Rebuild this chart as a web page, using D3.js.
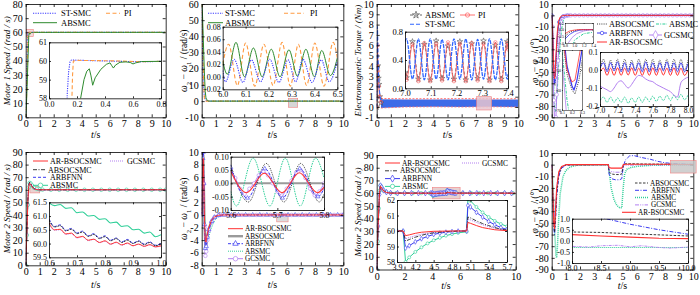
<!DOCTYPE html>
<html><head><meta charset="utf-8">
<script src="https://cdn.jsdelivr.net/npm/d3@7"></script>
<style>body{margin:0;background:#fff}svg{display:block}</style>
</head><body><svg id="c" width="700" height="295"></svg>
<script>
// ================= DATA =================
// Panel 1: Motor 1 speed
const p1Blue = [[0,0],[0.05,14],[0.1,38],[0.12,52],[0.13,58.2],[0.14,59.4],[0.15,59.95],[0.16,60.05],[0.25,60.03],[0.4,60.0],[0.55,59.97],[0.7,59.96],[0.8,59.98],[10,60]];
const p1Orange = [[0,0],[0.05,10],[0.1,30],[0.15,50],[0.162,57.5],[0.168,59.2],[0.174,60],[0.2,60.03],[0.35,60.02],[0.5,60.0],[0.65,59.96],[0.8,59.98],[10,60]];
const p1Green = [[0,0],[0.05,8],[0.1,22],[0.16,40],[0.2,52],[0.221,57.8],[0.25,59.0],[0.27,59.45],[0.288,59.58],[0.3,59.2],[0.312,58.7],[0.33,59.1],[0.37,59.55],[0.41,59.82],[0.436,59.9],[0.448,59.75],[0.46,59.62],[0.475,59.78],[0.507,59.93],[0.55,59.95],[0.58,59.92],[0.6,59.84],[0.62,59.9],[0.66,59.97],[0.8,59.98],[10,60]];
// Panel 2: speed difference
const p2Blue = [[0,58],[0.03,45],[0.06,30],[0.1,15],[0.15,6],[0.2,2],[0.3,0.4],[0.4,0],[10,0]];
const p2Orange = [[0,60],[0.04,50],[0.08,35],[0.12,18],[0.17,5],[0.2,0.5],[0.3,0],[10,0]];
const p2Green = [[0,60],[0.05,55],[0.1,42],[0.15,28],[0.2,15],[0.25,6],[0.3,2],[0.4,0.3],[0.5,0],[10,0]];
const p2InGreenT = [6.0,6.02,6.058,6.095,6.134,6.172,6.212,6.25,6.289,6.326,6.363,6.4,6.432,6.47,6.5];
const p2InGreenV = [0.025,0.004,0.055,0.0,0.046,0.0,0.044,0.0,0.043,0.001,0.044,0.0,0.042,0.002,0.03];
const p2InOrangeT = [6.0,6.026,6.064,6.10,6.14,6.18,6.22,6.259,6.295,6.33,6.366,6.402,6.442,6.482,6.5];
const p2InOrangeV = [0.02,0.052,-0.014,0.054,-0.015,0.052,-0.014,0.055,-0.015,0.052,-0.014,0.054,-0.015,0.055,0.03];
const p2InBlueT = [6.0,6.012,6.05,6.088,6.125,6.165,6.205,6.245,6.285,6.318,6.35,6.39,6.43,6.465,6.5];
const p2InBlueV = [0.01,-0.008,0.028,-0.009,0.027,-0.008,0.028,-0.009,0.027,-0.008,0.028,-0.009,0.027,-0.008,0.025];
// Panel 3: electromagnetic torque
const p3Blue = [[0,0],[0.02,5],[0.04,7.8],[0.06,7.5],[0.1,4.5],[0.15,2.5],[0.2,1.5],[0.25,0.9],[0.3,0.6]];
const p3Red = [[0,0],[0.03,4],[0.06,6],[0.1,3.5],[0.15,2],[0.2,1.0],[0.3,0.5]];
const p3Gray = [[0,0],[0.03,3],[0.08,4],[0.12,2.8],[0.16,2.2],[0.22,1.0],[0.3,0.4]];
const p3BandT = [0.3,2,4,6,8,10];
const p3BandLo = [-0.1,0.0,0.02,0.0,0.02,0.0];
const p3BandHi = [0.75,0.72,0.73,0.72,0.72,0.73];
const p3RedTop = [0.82,0.8,0.8,0.81,0.8,0.8];
const p3InT = [7.0,7.006,7.029,7.052,7.075,7.098,7.121,7.144,7.167,7.19,7.213,7.236,7.259,7.282,7.305,7.328,7.351,7.374,7.397,7.4];
const p3InBlueV = [0.66,0.70,0.13,0.70,0.12,0.70,0.13,0.69,0.12,0.70,0.13,0.70,0.12,0.69,0.13,0.70,0.12,0.70,0.13,0.2];
const p3InRedV = [0.2,0.12,0.62,0.1,0.64,0.1,0.63,0.11,0.65,0.1,0.63,0.1,0.64,0.11,0.63,0.1,0.65,0.1,0.64,0.55];
const p3InGrayV = [0.22,0.15,0.66,0.13,0.62,0.12,0.67,0.14,0.6,0.13,0.66,0.12,0.63,0.14,0.67,0.12,0.61,0.13,0.66,0.58];
// Panel 4: angle difference
const p4Black = [[0,0],[0.05,-8],[0.1,-32],[0.15,-52],[0.2,-60],[0.23,-62],[0.27,-55],[0.35,-30],[0.45,-12],[0.55,-4],[0.7,-1],[0.8,-0.5],[0.9,-0.2],[1.0,-0.08],[1.1,0],[10,0.03]];
const p4Blue = [[0,0],[0.05,-5],[0.1,-25],[0.15,-48],[0.2,-58],[0.22,-60],[0.25,-55],[0.3,-40],[0.4,-18],[0.5,-6],[0.6,-2.5],[0.7,-1.2],[0.8,-0.7],[0.9,-0.35],[1.0,-0.15],[1.1,-0.05],[1.2,0],[10,0.02]];
const p4Teal = [[0,0],[0.05,-10],[0.1,-40],[0.15,-65],[0.2,-80],[0.25,-85],[0.3,-83],[0.4,-65],[0.5,-42],[0.6,-24],[0.7,-12],[0.8,-5],[0.9,-2],[1.0,-0.8],[1.2,-0.3],[1.4,-0.2],[1.6,-0.17],[10,-0.17]];
const p4Purple = [[0,0],[0.05,-10],[0.1,-45],[0.15,-75],[0.2,-92],[0.25,-96],[0.3,-90],[0.35,-70],[0.45,-40],[0.55,-18],[0.65,-6],[0.75,-2],[0.85,-1.1],[0.95,-0.6],[1.05,-0.3],[1.2,-0.1],[1.35,0],[1.65,0],[1.95,0],[2.25,0],[2.55,0],[2.85,0],[3.15,0],[3.45,0],[3.75,0],[4.05,0],[4.35,0],[4.65,0],[4.95,0],[5.25,0],[5.55,0],[5.85,0],[6.15,0],[6.45,0],[6.75,0],[7.05,0],[7.35,0],[7.65,0],[7.95,0],[8.25,0],[8.55,0],[8.85,0],[9.15,0],[9.45,0],[9.75,0],[10,0]];
const p4Red = [[0,0],[0.05,-8],[0.1,-30],[0.15,-50],[0.2,-56],[0.23,-55],[0.3,-35],[0.4,-14],[0.5,-4.5],[0.6,-1.5],[0.7,-0.6],[0.8,-0.3],[0.9,-0.1],[1.0,-0.03],[1.1,0],[10,0]];
const p4InT = [7.0,7.04,7.08,7.12,7.16,7.2,7.24,7.28,7.32,7.36,7.4,7.44,7.48,7.52,7.56,7.6,7.64,7.68,7.72,7.76,7.8,7.84,7.88,7.92,7.96,8.0];
const p4InBlackV = [0.0,0.06,0.0,0.055,0.005,0.06,0.0,0.06,0.0,0.055,0.0,0.06,0.005,0.06,0.0,0.06,0.0,0.055,0.0,0.06,0.0,0.06,0.005,0.06,0.0,0.055];
const p4InBlueV = [0.01,0.04,-0.01,0.04,-0.005,0.045,-0.01,0.04,-0.01,0.04,-0.005,0.04,-0.01,0.045,-0.01,0.04,-0.01,0.04,-0.005,0.045,-0.01,0.04,-0.01,0.04,-0.01,0.035];
const p4InRedV = [-0.01,0.01,-0.03,0.01,-0.03,0.012,-0.03,0.01,-0.028,0.012,-0.03,0.01,-0.03,0.01,-0.03,0.012,-0.03,0.01,-0.028,0.01,-0.03,0.012,-0.03,0.01,-0.03,0.0];
const p4InTealV = [-0.17,-0.15,-0.18,-0.15,-0.18,-0.155,-0.18,-0.15,-0.185,-0.155,-0.18,-0.15,-0.18,-0.15,-0.175,-0.145,-0.175,-0.145,-0.17,-0.14,-0.17,-0.14,-0.165,-0.135,-0.165,-0.14];
const p4InPurpleV = [-0.09,-0.1,-0.11,-0.12,-0.1,-0.07,-0.06,-0.08,-0.1,-0.08,-0.05,-0.03,-0.035,-0.05,-0.06,-0.065,-0.08,-0.09,-0.1,-0.11,-0.12,-0.14,-0.15,-0.07,-0.05,-0.04];
// Panel 5: motor 2 speed
const p5Red = [[0,0],[0.08,25],[0.15,50],[0.22,63],[0.28,65.2],[0.35,64.5],[0.45,62.3],[0.55,61.2],[0.6,60.75],[0.7,60.35],[0.8,60.12],[0.9,60.0],[1.0,59.92],[1.5,60],[10,60]];
const p5Black = [[0,0],[0.08,26],[0.15,52],[0.22,64],[0.28,66],[0.35,65],[0.45,62.8],[0.55,61.4],[0.65,60.7],[0.8,60.2],[1.0,60],[10,60]];
const p5Blue = [[0,0],[0.08,26],[0.15,51],[0.22,64],[0.28,65.8],[0.35,65],[0.45,62.9],[0.55,61.5],[0.65,60.7],[0.8,60.2],[1.0,60],[10,60]];
const p5Teal = [[0,0],[0.08,24],[0.15,48],[0.22,62],[0.28,65.5],[0.35,65],[0.45,63.5],[0.6,61.5],[0.8,60.7],[1.0,60.3],[1.2,60.1],[1.8,60],[2.4,60],[3.0,60],[3.6,60],[4.2,60],[4.8,60],[5.4,60],[6.0,60],[6.6,60],[7.2,60],[7.8,60],[8.4,60],[9.0,60],[9.6,60],[10,60]];
const p5Purple = [[0,0],[0.08,25],[0.15,50],[0.22,63],[0.28,65],[0.35,64.2],[0.45,62.2],[0.6,60.7],[0.8,60.1],[1.0,59.9],[10,60]];
const p5InT = [0.60,0.62,0.64,0.66,0.68,0.70,0.72,0.74,0.76,0.78,0.80,0.82,0.84,0.86,0.88,0.90,0.92,0.94,0.96,0.98,1.00];
const p5InTealV = [61.48,61.38,61.42,61.28,61.3,61.12,61.15,61.0,61.02,60.88,60.9,60.75,60.78,60.62,60.65,60.5,60.52,60.38,60.42,60.25,60.32];
const p5InBlueV = [60.9,60.62,60.68,60.48,60.55,60.38,60.45,60.28,60.36,60.2,60.28,60.12,60.2,60.06,60.15,60.02,60.1,59.98,60.06,59.94,60.0];
const p5InBlackV = [60.85,60.6,60.65,60.46,60.52,60.36,60.42,60.26,60.33,60.18,60.25,60.1,60.18,60.04,60.12,60.0,60.08,59.96,60.04,59.92,59.98];
const p5InRedV = [60.75,60.5,60.52,60.35,60.38,60.22,60.26,60.12,60.16,60.04,60.1,59.98,60.05,59.95,60.02,59.92,59.98,59.9,59.96,59.88,59.92];
const p5InPurpleV = [60.7,60.48,60.5,60.33,60.36,60.2,60.25,60.1,60.15,60.03,60.08,59.97,60.03,59.94,60.0,59.92,59.97,59.9,59.95,59.88,59.9];
// Panel 6: speed difference
const p6Red = [[0,0],[0.04,4],[0.08,8],[0.11,9],[0.15,5],[0.2,-1],[0.25,-4],[0.3,-4.3],[0.4,-3],[0.5,-2],[0.7,-0.8],[0.9,-0.3],[1.2,-0.05],[1.5,0],[10,0]];
const p6Gray = [[0,0],[0.04,4.5],[0.08,8.5],[0.11,9.5],[0.15,5],[0.2,-1.5],[0.26,-5],[0.32,-4.8],[0.4,-3.3],[0.5,-2.2],[0.7,-0.9],[0.9,-0.35],[1.2,-0.05],[1.5,0],[10,0]];
const p6Blue = [[0,0],[0.04,4.5],[0.08,9],[0.11,10],[0.15,5],[0.2,-1.5],[0.26,-5.3],[0.32,-5],[0.4,-3.5],[0.5,-2.3],[0.7,-1],[0.9,-0.35],[1.2,-0.05],[1.6,0],[2.1,0],[2.6,0],[3.1,0],[3.6,0],[4.1,0],[4.6,0],[5.1,0],[5.6,0],[6.1,0],[6.6,0],[7.1,0],[7.6,0],[8.1,0],[8.6,0],[9.1,0],[9.6,0],[10,0]];
const p6Teal = [[0,0],[0.05,2],[0.1,4],[0.15,3],[0.2,0],[0.3,-3.8],[0.4,-4.2],[0.5,-3.5],[0.6,-2.6],[0.8,-1.4],[1.0,-0.6],[1.3,-0.15],[1.6,0],[10,0]];
const p6Purple = [[0,0],[0.04,5],[0.08,10],[0.11,11],[0.15,5],[0.2,-2],[0.26,-6.5],[0.32,-5.8],[0.4,-4],[0.5,-2.5],[0.7,-1.1],[0.9,-0.4],[1.2,-0.05],[1.35,0],[1.85,0],[2.35,0],[2.85,0],[3.35,0],[3.85,0],[4.35,0],[4.85,0],[5.35,0],[5.85,0],[6.35,0],[6.85,0],[7.35,0],[7.85,0],[8.35,0],[8.85,0],[9.35,0],[9.85,0],[10,0]];
const p6InRedT = [5.6,5.634,5.672,5.71,5.747,5.786,5.8];
const p6InRedV = [0.045,-0.035,0.038,-0.035,0.04,-0.035,-0.015];
const p6InTealT = [5.6,5.612,5.648,5.684,5.717,5.749,5.782,5.8];
const p6InTealV = [-0.03,-0.085,0.095,-0.085,0.095,-0.085,0.095,0.02];
const p6InBlackT = [5.6,5.638,5.676,5.714,5.75,5.79,5.8];
const p6InBlackV = [0.07,-0.07,0.075,-0.07,0.075,-0.07,-0.04];
const p6InBlueT = [5.6,5.636,5.673,5.711,5.748,5.787,5.8];
const p6InBlueV = [0.06,-0.055,0.055,-0.055,0.055,-0.05,-0.02];
const p6InPurpleT = [5.6,5.61,5.62,5.63,5.64,5.65,5.66,5.67,5.68,5.69,5.70,5.71,5.72,5.73,5.74,5.75,5.76,5.77,5.78,5.79,5.8];
const p6InPurpleV = [0.05,0.02,-0.02,-0.04,-0.02,0.0,0.03,0.045,0.03,0.0,-0.03,-0.045,-0.02,0.01,0.04,0.05,0.02,-0.02,-0.045,-0.03,0.0];
const p6InGray = [[5.6,0],[5.8,0]];
// Panel 7: motor 2 speed with load disturbance
const p7Red = [[0,0],[0.1,35],[0.2,60],[0.27,65.5],[0.35,64],[0.5,61.5],[0.7,60.5],[1.0,60],[4.0,60],[4.04,59.7],[4.1,59.75],[4.2,59.85],[4.3,59.92],[4.5,59.98],[4.8,60],[5.04,60],[5.06,60.55],[5.1,60.5],[5.2,60.35],[5.3,60.22],[5.4,60.15],[5.5,60.08],[5.7,60.02],[10,60]];
const p7Black = [[0,0],[0.1,34],[0.2,59],[0.27,65.8],[0.35,64.5],[0.5,62],[0.7,60.7],[1.0,60.1],[4.0,60],[4.04,59.35],[4.1,59.45],[4.2,59.6],[4.3,59.72],[4.4,59.82],[4.5,59.88],[4.7,59.96],[4.9,60],[5.04,60],[5.06,60.9],[5.1,60.85],[5.2,60.65],[5.3,60.48],[5.4,60.35],[5.5,60.22],[5.6,60.12],[5.7,60.06],[10,60]];
const p7Purple = [[0,0],[0.1,34],[0.2,59],[0.27,65.6],[0.35,64.3],[0.5,61.8],[0.7,60.6],[1.0,60.05],[4.0,60],[4.04,59.5],[4.1,59.58],[4.2,59.7],[4.3,59.8],[4.4,59.87],[4.5,59.92],[4.7,59.97],[4.9,60],[5.04,60],[5.06,60.78],[5.1,60.72],[5.2,60.55],[5.3,60.4],[5.4,60.28],[5.5,60.18],[5.6,60.1],[5.7,60.05],[10,60]];
const p7Blue = [[0,0],[0.1,34],[0.2,59],[0.27,66],[0.35,64.8],[0.5,62.2],[0.7,60.8],[1.0,60.1],[1.5,60],[2.0,60],[2.5,60],[3.0,60],[3.5,60],[3.9,60],[4.0,60],[4.04,58.9],[4.1,59.05],[4.2,59.3],[4.3,59.5],[4.4,59.65],[4.5,59.78],[4.6,59.86],[4.7,59.92],[4.8,59.96],[4.9,59.99],[5.04,60],[5.06,61.65],[5.1,61.55],[5.2,61.2],[5.3,60.9],[5.4,60.62],[5.5,60.4],[5.6,60.22],[5.7,60.1],[6.2,60],[6.7,60],[7.2,60],[7.7,60],[8.2,60],[8.7,60],[9.2,60],[9.7,60]];
const p7Teal = [[0,0],[0.08,22],[0.15,48],[0.22,62],[0.27,66],[0.35,64.5],[0.5,62],[0.7,60.8],[1.0,60.2],[1.4,60],[2.0,60],[2.6,60],[3.2,60],[3.8,60],[3.9,60],[4.0,60],[4.04,58.0],[4.1,58.3],[4.2,58.65],[4.3,58.95],[4.4,59.2],[4.5,59.4],[4.6,59.56],[4.7,59.7],[4.8,59.8],[4.9,59.88],[5.04,59.95],[5.06,62.05],[5.1,61.95],[5.2,61.55],[5.3,61.2],[5.4,60.9],[5.5,60.65],[5.6,60.45],[5.7,60.3],[6.2,60.1],[6.8,60],[7.4,60],[8.0,60],[8.6,60],[9.2,60],[9.8,60]];
// Panel 8: angle difference with load disturbance
const p8Black = [[0,0],[0.08,-25],[0.15,-50],[0.2,-58],[0.25,-50],[0.35,-25],[0.5,-8],[0.7,-2],[1.0,-0.3],[4.0,0],[4.05,-6],[4.2,-8],[4.5,-8.5],[4.8,-8.5],[4.95,-8],[5.05,-1],[5.2,0.8],[5.5,0.8],[6.5,0.55],[8,0.4],[8.5,0.38],[9,0.32],[9.5,0.27],[10,0.22]];
const p8Blue = [[0,0],[0.08,-30],[0.15,-55],[0.2,-60],[0.25,-52],[0.35,-28],[0.5,-10],[0.7,-3],[1.0,-0.5],[1.5,0],[4.0,0],[4.05,-8],[4.2,-12],[4.5,-13],[4.8,-13],[4.95,-12],[5.05,-2],[5.2,4],[5.5,7.5],[5.8,7.8],[6.2,6.5],[7,4.5],[7.5,2.8],[8,1.6],[8.5,1.05],[9,0.75],[9.5,0.5],[10,0.3]];
const p8Teal = [[0,0],[0.1,-20],[0.2,-55],[0.3,-78],[0.35,-80],[0.4,-72],[0.5,-45],[0.6,-25],[0.8,-10],[1.0,-5],[1.3,-2],[1.8,-0.5],[4.0,-0.3],[4.1,-10],[4.2,-20],[4.4,-30],[4.6,-35],[4.8,-37],[4.95,-37],[5.05,-20],[5.15,-8],[5.3,-4],[5.6,-2.5],[6,-1.5],[7,-0.6],[8,-0.3],[9,-0.3],[10,-0.3]];
const p8Purple = [[0,0],[0.1,-30],[0.2,-45],[0.25,-40],[0.4,-15],[0.6,-4],[1,0],[4,0],[4.05,-5],[4.2,-6],[4.5,-6.5],[4.8,-6.5],[4.95,-6],[5.05,-1],[5.2,-0.5],[6,-0.3],[8,-0.25],[8.3,-0.28],[8.5,-0.22],[8.8,-0.2],[9.0,-0.27],[9.2,-0.22],[9.5,-0.3],[9.7,-0.33],[10,-0.28]];
const p8Red = [[0,0],[0.08,-25],[0.15,-50],[0.2,-55],[0.25,-45],[0.35,-20],[0.5,-6],[0.7,-1.5],[1,0],[4.0,0],[4.05,-2.5],[4.2,-3],[4.8,-3],[4.95,-3],[5.05,0],[5.2,0.4],[6,0.35],[8,0.28],[8.5,0.22],[9,0.17],[9.5,0.12],[10,0.1]];

// tick values
const t0to10 = [0,1,2,3,4,5,6,7,8,9,10];
const t0to10by2 = [0,2,4,6,8,10];

// ================= DRAWING =================
const FONT = '"Liberation Serif","Times New Roman",serif';
const svg = d3.select('#c');
const defs = svg.append('defs');
let clipN = 0;
const fmtNum = f => (v => d3.format(f)(v).replace('\u2212','-'));
const fmtInt = v => String(v);

function area(L,R,T,B,xd,yd,bg){
  const x = d3.scaleLinear().domain(xd).range([L,R]);
  const y = d3.scaleLinear().domain(yd).range([B,T]);
  const id = 'clip'+(clipN++);
  defs.append('clipPath').attr('id',id).append('rect').attr('x',L).attr('y',T).attr('width',R-L).attr('height',B-T);
  if (bg) svg.append('rect').attr('x',L).attr('y',T).attr('width',R-L).attr('height',B-T).attr('fill',bg);
  const g = svg.append('g').attr('clip-path','url(#'+id+')');
  return {x,y,g,L,R,T,B};
}
function axes(p, xt, yt, o){
  const fs = o.fs||10, tl = o.tl||3, sw = o.sw||0.8;
  const ax = (gen, tr, vals, fmt, pad) => {
    const g = svg.append('g').attr('transform',tr)
      .call(gen.tickValues(vals).tickSizeInner(-tl).tickSizeOuter(0).tickPadding(pad).tickFormat(fmt||(()=> '')));
    g.attr('font-family',FONT).attr('font-size',fs);
    g.select('.domain').attr('stroke','#000').attr('stroke-width',sw);
    g.selectAll('.tick line').attr('stroke','#000').attr('stroke-width',sw);
    g.selectAll('.tick text').attr('fill','#000');
    return g;
  };
  const pad = o.pad||3;
  ax(d3.axisBottom(p.x), `translate(0,${p.B})`, xt, o.xfmt||fmtInt, o.xpad||pad);
  ax(d3.axisTop(p.x), `translate(0,${p.T})`, xt, null, pad);
  ax(d3.axisLeft(p.y), `translate(${p.L},0)`, yt, o.yfmt||fmtInt, o.ypad||pad);
  ax(d3.axisRight(p.y), `translate(${p.R},0)`, yt, null, pad);
}
function marks(g, x, y, data, st){
  const sym = d3.symbol().type(st.m).size(st.ms||9);
  g.append('g').selectAll('path').data(data.filter((d,i)=>i%(st.every||1)===0)).join('path')
    .attr('d', sym).attr('transform', d=>`translate(${x(d[0])},${y(d[1])})`)
    .attr('fill', st.mf||'#fff').attr('stroke', st.mc||st.c).attr('stroke-width',0.6);
}
function line(p, data, st, curve){
  const gen = d3.line().x(d=>p.x(d[0])).y(d=>p.y(d[1])).curve(curve||d3.curveLinear);
  p.g.append('path').attr('d',gen(data)).attr('fill','none').attr('stroke',st.c)
    .attr('stroke-width',st.w||1).attr('stroke-dasharray',st.dash||null).attr('stroke-linejoin','round');
  if (st.m) marks(p.g, p.x, p.y, data, st);
}
function shade(p, x0, x1, y0, y1, fill, noClip){
  const tgt = noClip ? svg : p.g;
  tgt.append('rect').attr('x',p.x(x0)).attr('y',p.y(y1)).attr('width',p.x(x1)-p.x(x0)).attr('height',p.y(y0)-p.y(y1))
    .attr('fill',fill||'#d9d9d9').attr('fill-opacity',0.85).attr('stroke','#f08080').attr('stroke-width',0.6);
}
function legend(items, fs){
  items.forEach(it=>{
    const st = it.st;
    svg.append('line').attr('x1',it.x1).attr('x2',it.x2).attr('y1',it.y).attr('y2',it.y)
      .attr('stroke',st.c).attr('stroke-width',st.w||1).attr('stroke-dasharray',st.dash||null);
    if (st.m){
      svg.append('path').attr('d',d3.symbol().type(st.m).size((st.ms||9)*1.6)()).attr('transform',`translate(${(it.x1+it.x2)/2},${it.y})`)
        .attr('fill',st.mf||'#fff').attr('stroke',st.mc||st.c).attr('stroke-width',0.7);
    }
    svg.append('text').attr('x',it.tx).attr('y',it.y).attr('dy','0.35em').attr('font-family',FONT).attr('font-size',fs||8.5).attr('fill','#000').text(it.label);
  });
}
function yTitle(cx, cy, parts, fs){
  const t = svg.append('text').attr('transform',`translate(${cx},${cy}) rotate(-90)`).attr('text-anchor','middle')
    .attr('font-family',FONT).attr('font-size',fs||9.5).attr('fill','#000');
  parts.forEach(pt=>{
    const s = t.append('tspan').text(pt.t);
    if (pt.i) s.attr('font-style','italic');
    if (pt.sub) s.attr('baseline-shift','sub').attr('font-size',(fs||9.5)*0.7);
  });
}
function xTitle(cx, cy){
  const t = svg.append('text').attr('x',cx).attr('y',cy).attr('text-anchor','middle').attr('font-family',FONT).attr('font-size',10).attr('fill','#000');
  t.append('tspan').attr('font-style','italic').text('t');
  t.append('tspan').text('/s');
}

// styles
const ST = {c:'#3a3aff', w:1.1, dash:'1.2,1.2'};
const PI = {c:'#ff9a40', w:1.1, dash:'4,2.5'};
const ABG = {c:'#2e8b2e', w:1};
const RED = '#ff3030', TEAL = '#2fcf98', PUR = '#b27ff0', BLU = '#3a3af0', BLK = '#222';

// ---------- Panel 1 ----------
{
  const p = area(25.7,165.7,4,117.3,[0,10],[0,80]);
  shade(p, 0.07, 0.54, 57, 62, '#f2d3d3');
  line(p, p1Blue, ST); line(p, p1Orange, PI); line(p, p1Green, ABG);
  axes(p, t0to10, [0,10,20,30,40,50,60,70,80], {});
  legend([{x1:33,x2:57,y:13.3,tx:61,label:'ST-SMC',st:ST},{x1:106,x2:120,y:13.3,tx:124,label:'PI',st:PI},{x1:33,x2:57,y:22.7,tx:61,label:'ABSMC',st:ABG}], 8.5);
  const q = area(49,161,42.3,98.3,[0,0.8],[58,61],'#fff');
  line(q, p1Blue, ST); line(q, p1Orange, PI); line(q, p1Green, ABG);
  axes(q, [0,0.2,0.4,0.6,0.8], [58,59,60,61], {fs:8, xfmt:fmtNum('.1f'), pad:2, xpad:3, tl:2});
  yTitle(10, 60.7, [{t:'Motor 1 Speed / (rad / s)', i:true}], 9);
  xTitle(95.7, 138);
}
// ---------- Panel 2 ----------
{
  const p = area(201.7,343.3,4,117.3,[0,10],[-10,60]);
  shade(p, 6.12, 6.78, -3.8, 1.5, '#cfcfcf');
  line(p, p2Blue, ST); line(p, p2Orange, PI); line(p, p2Green, ABG);
  axes(p, t0to10, [-10,0,10,20,30,40,50,60], {});
  legend([{x1:208,x2:223,y:13.3,tx:225,label:'ST-SMC',st:ST},{x1:284,x2:304,y:13.3,tx:310,label:'PI',st:PI},{x1:208,x2:223,y:22.7,tx:225,label:'ABSMC',st:ABG}], 8.5);
  const q = area(222.7,337.3,26.7,89.3,[6,6.5],[-0.02,0.08],'#fff');
  const cm = d3.curveMonotoneX;
  line(q, d3.zip(p2InOrangeT,p2InOrangeV), PI, cm);
  line(q, d3.zip(p2InGreenT,p2InGreenV), ABG, cm);
  line(q, d3.zip(p2InBlueT,p2InBlueV), ST, cm);
  axes(q, [6.0,6.1,6.2,6.3,6.4,6.5], [-0.02,0,0.02,0.04,0.06,0.08], {fs:8, xfmt:fmtNum('.1f'), yfmt:fmtNum('.2f'), pad:2, tl:2});
  yTitle(187, 60.7, [{t:'ω',i:true},{t:'2',sub:true},{t:' − '},{t:'ω',i:true},{t:'1',sub:true},{t:' / (rad/s)'}]);
  xTitle(272.5, 138);
}
// ---------- Panel 3 ----------
{
  const p = area(376.7,518.3,4,117.3,[0,10],[-1,10]);
  const bandBlue = d3.zip(p3BandT,p3BandLo,p3BandHi);
  p.g.append('path').attr('d', d3.area().x(d=>p.x(d[0])).y0(d=>p.y(d[1])).y1(d=>p.y(d[2]))(bandBlue)).attr('fill','#3d6be8');
  line(p, d3.zip(p3BandT,p3RedTop), {c:'#ff6b6b', w:1, dash:'2,1.5'});
  line(p, d3.zip(p3BandT,p3BandLo), {c:'#ff6b6b', w:0.8, dash:'2,1.5'});
  shade(p, 7.06, 8.12, -0.29, 1.0, '#e8c4cf');
  const G3 = {c:'#555', w:0.9, dash:'3,2', m:d3.symbolStar, ms:10, mf:'none'};
  const R3 = {c:'#ff6060', w:0.9, m:d3.symbolCircle, ms:9, mf:'none'};
  const B3 = {c:'#2f66ff', w:1.1, dash:'4,2'};
  line(p, p3Gray, G3); line(p, p3Red, R3); line(p, p3Blue, B3);
  axes(p, t0to10, [-1,0,1,2,3,4,5,6,7,8,9,10], {});
  legend([{x1:410,x2:422,y:15,tx:425,label:'ABSMC',st:G3},{x1:460,x2:475,y:15,tx:478,label:'PI',st:R3},{x1:410,x2:422,y:24.3,tx:425,label:'ST-SMC',st:B3}], 8.5);
  const q = area(405,508,31.7,88.3,[7,7.4],[0,0.8],'#fff');
  const cm = d3.curveMonotoneX;
  line(q, d3.zip(p3InT,p3InGrayV), G3, cm);
  line(q, d3.zip(p3InT,p3InRedV), R3, cm);
  line(q, d3.zip(p3InT,p3InBlueV), {c:'#2f66ff', w:1.3, dash:'4,1'}, cm);
  axes(q, [7.0,7.1,7.2,7.3,7.4], [0,0.4,0.8], {fs:8.5, xfmt:fmtNum('.1f'), yfmt:fmtNum('.1f'), pad:2, tl:2});
  yTitle(361, 60.7, [{t:'Electromagnetic Torque / (Nm)', i:true}], 9);
  xTitle(447.5, 138);
}
// ---------- Panel 4 ----------
{
  const p = area(551.7,693.3,4,117.3,[0,10],[-90,10]);
  const K4 = {c:BLK, w:0.9, dash:'1,1.2'};
  const T4 = {c:TEAL, w:1, dash:'3,1.2,1,1.2'};
  const B4 = {c:BLU, w:1, m:d3.symbolCircle, ms:6, every:3};
  const P4 = {c:PUR, w:1, m:d3.symbolCircle, ms:10};
  const R4 = {c:RED, w:1};
  line(p, p4Teal, T4); line(p, p4Purple, P4); line(p, p4Black, K4); line(p, p4Blue, B4); line(p, p4Red, R4);
  axes(p, t0to10, [-90,-80,-70,-60,-50,-40,-30,-20,-10,0,10], {});
  legend([{x1:597,x2:607,y:24,tx:609,label:'ABSOCSMC',st:K4},{x1:656,x2:667,y:24,tx:669,label:'ABSMC',st:T4},
          {x1:597,x2:607,y:33,tx:609,label:'ARBFNN',st:{c:BLU,w:1,m:d3.symbolCircle,ms:6}},{x1:649,x2:662,y:35,tx:664,label:'GCSMC',st:{c:PUR,w:1,m:d3.symbolDiamond,ms:14}},
          {x1:597,x2:607,y:42,tx:609,label:'AR-BSOCSMC',st:R4}], 8.3);
  // inset A
  const a = area(565,593,23,43,[0.8,1.4],[-1,0.5],'#fff');
  line(a, p4Teal, T4); line(a, p4Purple, {c:PUR,w:0.8}); line(a, p4Black, K4); line(a, p4Blue, {c:BLU,w:0.8}); line(a, p4Red, {c:RED,w:0.8});
  axes(a, [0.8,1.0,1.2,1.4], [-1,-0.5,0,0.5], {fs:4, xfmt:fmtNum('.1f'), yfmt:fmtNum('.1f'), pad:1, tl:1, sw:0.5});
  // inset B
  const b = area(562,582,50,110,[0.1,0.3],[-70,-40],'#fff');
  line(b, p4Teal, T4); line(b, p4Purple, {c:PUR,w:0.8}); line(b, p4Black, K4); line(b, p4Blue, {c:BLU,w:1.2}); line(b, p4Red, {c:RED,w:0.8});
  axes(b, [0.1,0.2,0.3], [-70,-60,-50,-40], {fs:4, xfmt:fmtNum('.1f'), pad:1, tl:1, sw:0.5});
  // inset C
  const c = area(600,688,52,106,[7,8],[-0.2,0.1],'#fff');
  const cm = d3.curveMonotoneX;
  line(c, d3.zip(p4InT,p4InTealV), {c:TEAL,w:0.9,dash:'2,1'}, cm);
  line(c, d3.zip(p4InT,p4InPurpleV), {c:PUR,w:1}, cm);
  line(c, d3.zip(p4InT,p4InBlackV), {c:BLK,w:0.8,dash:'1,1'}, cm);
  line(c, d3.zip(p4InT,p4InBlueV), {c:BLU,w:1}, cm);
  line(c, d3.zip(p4InT,p4InRedV), {c:RED,w:1}, cm);
  axes(c, [7.0,7.2,7.4,7.6,7.8,8.0], [-0.2,-0.1,0,0.1], {fs:7.5, xfmt:fmtNum('.1f'), yfmt:fmtNum('.1f'), pad:2, tl:2});
  yTitle(538, 60.7, [{t:'φ',i:true},{t:'2',sub:true},{t:' − '},{t:'φ',i:true},{t:'1',sub:true},{t:' / (°)'}]);
  xTitle(622.5, 138);
}
// ---------- Panel 5 ----------
{
  const p = area(25.7,165.7,152,265.3,[0,10],[0,90]);
  shade(p, 0.3, 1.0, 57.5, 62.8, '#e6c9c9');
  const R5 = {c:RED,w:1}, P5 = {c:PUR,w:1,dash:'1,1'}, K5 = {c:BLK,w:0.9,dash:'4,1.5,1,1.5'}, B5 = {c:BLU,w:1,dash:'3,2'}, T5 = {c:TEAL,w:1,m:d3.symbolCircle,ms:10};
  line(p, p5Teal, T5); line(p, p5Purple, P5); line(p, p5Blue, B5); line(p, p5Black, K5); line(p, p5Red, R5);
  axes(p, t0to10, [0,10,20,30,40,50,60,70,80,90], {});
  legend([{x1:33,x2:48,y:161,tx:50,label:'AR-BSOCSMC',st:R5},{x1:110,x2:124,y:161,tx:127,label:'GCSMC',st:P5},
          {x1:33,x2:46,y:169.7,tx:48,label:'ABSOCSMC',st:K5},{x1:33,x2:48,y:177.3,tx:50,label:'ARBFNN',st:B5},
          {x1:33,x2:48,y:185.3,tx:50,label:'ABSMC',st:T5}], 8.0);
  const q = area(49,161,202.3,257.3,[0.6,1.0],[59.5,61.5],'#fff');
  const cm = d3.curveMonotoneX;
  line(q, d3.zip(p5InT,p5InTealV), {c:TEAL,w:1.1}, cm);
  line(q, d3.zip(p5InT,p5InBlueV), {c:BLU,w:1,dash:'3,1.5'}, cm);
  line(q, d3.zip(p5InT,p5InBlackV), {c:BLK,w:0.9,dash:'2,1'}, cm);
  line(q, d3.zip(p5InT,p5InPurpleV), {c:PUR,w:0.9,dash:'1,1'}, cm);
  line(q, d3.zip(p5InT,p5InRedV), {c:RED,w:1}, cm);
  axes(q, [0.6,0.7,0.8,0.9,1.0], [59.5,60,60.5,61,61.5], {fs:8, xfmt:fmtNum('.1f'), yfmt:fmtNum('.1f'), pad:2, xpad:3, tl:2});
  yTitle(10, 208.7, [{t:'Motor 2 Speed / (rad / s)', i:true}], 9);
  xTitle(95.7, 288);
}
// ---------- Panel 6 ----------
{
  const p = area(201.7,343.3,152,265.3,[0,10],[-8,10]);
  shade(p, 5.3, 6.1, -1.1, 0.15, '#d6d6d6');
  const R6 = {c:RED,w:1}, G6 = {c:'#9a9a9a',w:2.4}, B6 = {c:BLU,w:1,dash:'3,1.5',m:d3.symbolTriangle,ms:8}, T6 = {c:TEAL,w:1,dash:'1,1'}, P6 = {c:PUR,w:1,m:d3.symbolCircle,ms:10};
  line(p, p6Gray, G6); line(p, p6Teal, T6); line(p, p6Purple, P6); line(p, p6Blue, B6); line(p, p6Red, R6);
  axes(p, t0to10, [-8,-6,-4,-2,0,2,4,6,8,10], {});
  legend([{x1:228,x2:243,y:228.7,tx:245,label:'AR-BSOCSMC',st:R6},{x1:228,x2:243,y:236.2,tx:245,label:'ABSOCSMC',st:G6},
          {x1:228,x2:243,y:243.7,tx:245,label:'ARBFNN',st:B6},{x1:228,x2:243,y:251.2,tx:245,label:'ABSMC',st:T6},
          {x1:228,x2:243,y:258.7,tx:245,label:'GCSMC',st:P6}], 7.2);
  const q = area(230.7,324,156.7,210,[5.6,5.8],[-0.1,0.1],'#fff');
  const cm = d3.curveMonotoneX;
  line(q, p6InGray, {c:'#9a9a9a',w:2});
  line(q, d3.zip(p6InTealT,p6InTealV), {c:TEAL,w:1,dash:'1.5,1'}, cm);
  line(q, d3.zip(p6InBlackT,p6InBlackV), {c:BLK,w:0.9,dash:'1,1.2'}, cm);
  line(q, d3.zip(p6InPurpleT,p6InPurpleV), {c:PUR,w:1,m:d3.symbolCircle,ms:9}, cm);
  line(q, d3.zip(p6InBlueT,p6InBlueV), {c:BLU,w:1,dash:'3,1.5',m:d3.symbolTriangle,ms:7}, cm);
  line(q, d3.zip(p6InRedT,p6InRedV), {c:RED,w:1.1}, cm);
  axes(q, [5.6,5.7,5.8], [-0.1,-0.05,0,0.05,0.1], {fs:8, xfmt:fmtNum('.1f'), yfmt:fmtNum('.2f'), pad:2, tl:2});
  yTitle(187, 208.7, [{t:'ω',i:true},{t:'2',sub:true},{t:' − '},{t:'ω',i:true},{t:'1',sub:true},{t:' / (rad/s)'}]);
  xTitle(272.5, 288);
}
// ---------- Panel 7 ----------
{
  const p = area(376.7,515.7,155,269.5,[0,10],[0,90]);
  shade(p, 4.0, 6.0, 55.5, 64.5, '#e3c8c8');
  const R7 = {c:RED,w:1}, P7 = {c:PUR,w:1,dash:'1,1'}, K7 = {c:BLK,w:0.9,dash:'4,1.5,1,1.5'}, B7 = {c:BLU,w:1,m:d3.symbolDiamond,ms:9}, T7 = {c:TEAL,w:1,m:d3.symbolCircle,ms:9};
  line(p, p7Teal, T7); line(p, p7Blue, B7); line(p, p7Purple, P7); line(p, p7Black, K7); line(p, p7Red, R7);
  axes(p, t0to10by2, [0,10,20,30,40,50,60,70,80,90], {});
  legend([{x1:385,x2:400,y:163,tx:402,label:'AR-BSOCSMC',st:R7},{x1:462,x2:479,y:163,tx:482,label:'GCSMC',st:P7},
          {x1:385,x2:398,y:170.8,tx:400,label:'ABSOCSMC',st:K7},{x1:385,x2:400,y:178.6,tx:402,label:'ARBFNN',st:B7},
          {x1:385,x2:400,y:186.4,tx:402,label:'ABSMC',st:T7}], 7.4);
  const q = area(397,507,200,262,[3.9,5.7],[58,62],'#fff');
  line(q, p7Teal, {c:TEAL,w:1,m:d3.symbolCircle,ms:7}); line(q, p7Blue, {c:BLU,w:1,m:d3.symbolDiamond,ms:7});
  line(q, p7Purple, P7); line(q, p7Black, K7); line(q, p7Red, R7);
  axes(q, [3.9,4.2,4.5,4.8,5.1,5.4,5.7], [58,59,60,61,62], {fs:8, xfmt:fmtNum('.1f'), pad:2, tl:2});
  yTitle(361, 212, [{t:'Motor 2 Speed / (rad / s)', i:true}], 9);
  xTitle(446, 289);
}
// ---------- Panel 8 ----------
{
  const p = area(551.7,693.3,153,269.5,[0,10],[-90,10]);
  const K8 = {c:BLK,w:0.9,dash:'2.5,1.5'}, B8 = {c:BLU,w:1,dash:'4,1.5,1,1.5'}, T8 = {c:TEAL,w:1.5,dash:'1,1'}, P8 = {c:PUR,w:1,dash:'4,1.2,1,1.2,1,1.2'}, R8 = {c:RED,w:1.1};
  line(p, p8Teal, T8); line(p, p8Purple, P8); line(p, p8Blue, B8); line(p, p8Black, K8); line(p, p8Red, R8);
  axes(p, t0to10, [-90,-80,-70,-60,-50,-40,-30,-20,-10,0,10], {});
  shade(p, 8.4, 10.2, -7.2, 3.4, '#c8c8c8', true);
  legend([{x1:635,x2:648,y:183,tx:650,label:'ABSOCSMC',st:K8},{x1:635,x2:648,y:190.3,tx:651,label:'ARBFNN',st:B8},
          {x1:635,x2:648,y:197.6,tx:651,label:'ABSMC',st:T8},{x1:635,x2:648,y:204.9,tx:651,label:'GCSMC',st:P8},
          {x1:622,x2:636,y:212.3,tx:638,label:'AR-BSOCSMC',st:R8}], 7.2);
  const q = area(572,688,218.7,263,[8,10],[-1,1],'#fff');
  line(q, p8Teal, {c:TEAL,w:1.1,dash:'1,1'}); line(q, p8Purple, {c:PUR,w:0.9,dash:'3,1,1,1'});
  line(q, p8Blue, B8); line(q, p8Black, K8); line(q, p8Red, R8);
  axes(q, [8,8.5,9,9.5,10], [-1,-0.5,0,0.5,1], {fs:8, xfmt:fmtNum('.1f'), yfmt:fmtNum('.1f'), pad:2, tl:2});
  yTitle(538, 211, [{t:'φ',i:true},{t:'2',sub:true},{t:' − '},{t:'φ',i:true},{t:'1',sub:true},{t:' / (°)'}]);
  xTitle(622.5, 289);
}
</script></body></html>
